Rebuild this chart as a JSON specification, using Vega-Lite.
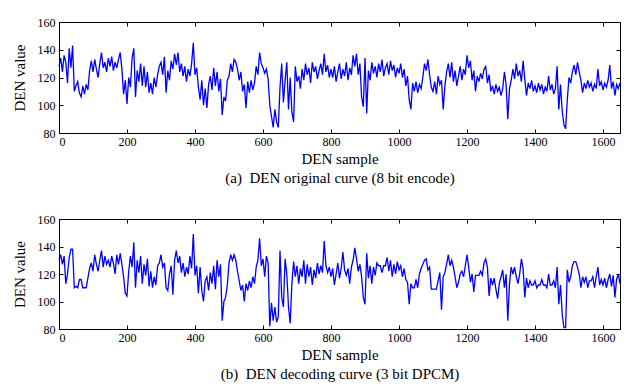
{
"$schema": "https://vega.github.io/schema/vega-lite/v6.json",
"padding": {"left": 11, "top": 15, "right": 2, "bottom": 0},
"background": "white",
"data": {"values": [
{"s":0,"a":128,"b":130},{"s":5,"a":134,"b":134},{"s":10,"a":124,"b":127},{"s":15,"a":136,"b":133},{"s":20,"a":131,"b":113},{"s":25,"a":116,"b":120},{"s":30,"a":141,"b":132},{"s":35,"a":127,"b":138},{"s":40,"a":143,"b":138},{"s":45,"a":110,"b":110},
{"s":50,"a":114,"b":111},{"s":55,"a":117,"b":110},{"s":60,"a":109,"b":116},{"s":65,"a":106,"b":116},{"s":70,"a":114,"b":110},{"s":75,"a":108,"b":110},{"s":80,"a":115,"b":110},{"s":85,"a":111,"b":117},{"s":90,"a":125,"b":124},{"s":95,"a":132,"b":128},
{"s":100,"a":124,"b":122},{"s":105,"a":133,"b":134},{"s":110,"a":126,"b":127},{"s":115,"a":120,"b":122},{"s":120,"a":130,"b":130},{"s":125,"a":138,"b":137},{"s":130,"a":127,"b":125},{"s":135,"a":131,"b":133},{"s":140,"a":124,"b":127},{"s":145,"a":134,"b":130},
{"s":150,"a":128,"b":125},{"s":155,"a":135,"b":133},{"s":160,"a":125,"b":128},{"s":165,"a":131,"b":120},{"s":170,"a":127,"b":134},{"s":175,"a":133,"b":127},{"s":180,"a":138,"b":135},{"s":185,"a":126,"b":127},{"s":190,"a":108,"b":118},{"s":195,"a":118,"b":106},
{"s":200,"a":101,"b":104},{"s":205,"a":120,"b":122},{"s":210,"a":113,"b":133},{"s":215,"a":134,"b":125},{"s":220,"a":141,"b":143},{"s":225,"a":106,"b":110},{"s":230,"a":125,"b":130},{"s":235,"a":117,"b":121},{"s":240,"a":130,"b":133},{"s":245,"a":114,"b":113},
{"s":250,"a":128,"b":127},{"s":255,"a":113,"b":119},{"s":260,"a":124,"b":131},{"s":265,"a":109,"b":111},{"s":270,"a":116,"b":122},{"s":275,"a":108,"b":110},{"s":280,"a":120,"b":118},{"s":285,"a":113,"b":112},{"s":290,"a":122,"b":126},{"s":295,"a":128,"b":128},
{"s":300,"a":131,"b":134},{"s":305,"a":122,"b":125},{"s":310,"a":135,"b":128},{"s":315,"a":109,"b":110},{"s":320,"a":125,"b":108},{"s":325,"a":118,"b":120},{"s":330,"a":132,"b":126},{"s":335,"a":126,"b":105},{"s":340,"a":137,"b":130},{"s":345,"a":129,"b":137},
{"s":350,"a":138,"b":128},{"s":355,"a":124,"b":133},{"s":360,"a":130,"b":121},{"s":365,"a":121,"b":128},{"s":370,"a":128,"b":118},{"s":375,"a":117,"b":125},{"s":380,"a":126,"b":120},{"s":385,"a":121,"b":133},{"s":390,"a":130,"b":124},{"s":395,"a":145,"b":149},
{"s":400,"a":122,"b":119},{"s":405,"a":127,"b":126},{"s":410,"a":113,"b":106},{"s":415,"a":104,"b":125},{"s":420,"a":118,"b":108},{"s":425,"a":100,"b":100},{"s":430,"a":112,"b":115},{"s":435,"a":98,"b":118},{"s":440,"a":115,"b":108},{"s":445,"a":121,"b":121},
{"s":450,"a":111,"b":113},{"s":455,"a":127,"b":126},{"s":460,"a":114,"b":109},{"s":465,"a":124,"b":130},{"s":470,"a":110,"b":118},{"s":475,"a":119,"b":127},{"s":480,"a":93,"b":86},{"s":485,"a":106,"b":100},{"s":490,"a":103,"b":103},{"s":495,"a":118,"b":112},
{"s":500,"a":121,"b":128},{"s":505,"a":130,"b":134},{"s":510,"a":124,"b":130},{"s":515,"a":133,"b":134},{"s":520,"a":131,"b":130},{"s":525,"a":126,"b":122},{"s":530,"a":118,"b":115},{"s":535,"a":124,"b":108},{"s":540,"a":110,"b":112},{"s":545,"a":115,"b":100},
{"s":550,"a":98,"b":113},{"s":555,"a":117,"b":108},{"s":560,"a":109,"b":115},{"s":565,"a":118,"b":110},{"s":570,"a":111,"b":118},{"s":575,"a":116,"b":113},{"s":580,"a":128,"b":125},{"s":585,"a":122,"b":130},{"s":590,"a":138,"b":146},{"s":595,"a":130,"b":126},
{"s":600,"a":127,"b":131},{"s":605,"a":123,"b":118},{"s":610,"a":126,"b":133},{"s":615,"a":119,"b":128},{"s":620,"a":100,"b":82},{"s":625,"a":92,"b":99},{"s":630,"a":84,"b":86},{"s":635,"a":97,"b":96},{"s":640,"a":88,"b":85},{"s":645,"a":84,"b":89},
{"s":650,"a":113,"b":137},{"s":655,"a":130,"b":103},{"s":660,"a":102,"b":96},{"s":665,"a":118,"b":131},{"s":670,"a":131,"b":120},{"s":675,"a":97,"b":96},{"s":680,"a":120,"b":84},{"s":685,"a":95,"b":113},{"s":690,"a":88,"b":129},{"s":695,"a":128,"b":118},
{"s":700,"a":117,"b":126},{"s":705,"a":121,"b":113},{"s":710,"a":112,"b":124},{"s":715,"a":126,"b":118},{"s":720,"a":118,"b":130},{"s":725,"a":130,"b":113},{"s":730,"a":122,"b":127},{"s":735,"a":127,"b":118},{"s":740,"a":116,"b":125},{"s":745,"a":131,"b":112},
{"s":750,"a":124,"b":123},{"s":755,"a":128,"b":117},{"s":760,"a":119,"b":128},{"s":765,"a":125,"b":120},{"s":770,"a":130,"b":126},{"s":775,"a":122,"b":121},{"s":780,"a":137,"b":144},{"s":785,"a":124,"b":126},{"s":790,"a":129,"b":121},{"s":795,"a":120,"b":125},
{"s":800,"a":126,"b":118},{"s":805,"a":120,"b":124},{"s":810,"a":128,"b":112},{"s":815,"a":117,"b":120},{"s":820,"a":124,"b":128},{"s":825,"a":130,"b":117},{"s":830,"a":119,"b":124},{"s":835,"a":126,"b":136},{"s":840,"a":121,"b":123},{"s":845,"a":131,"b":119},
{"s":850,"a":118,"b":124},{"s":855,"a":127,"b":113},{"s":860,"a":122,"b":125},{"s":865,"a":136,"b":130},{"s":870,"a":128,"b":139},{"s":875,"a":137,"b":131},{"s":880,"a":122,"b":122},{"s":885,"a":130,"b":127},{"s":890,"a":106,"b":118},{"s":895,"a":99,"b":103},
{"s":900,"a":134,"b":98},{"s":905,"a":94,"b":135},{"s":910,"a":125,"b":117},{"s":915,"a":118,"b":126},{"s":920,"a":131,"b":113},{"s":925,"a":123,"b":125},{"s":930,"a":128,"b":119},{"s":935,"a":120,"b":128},{"s":940,"a":130,"b":126},{"s":945,"a":124,"b":126},
{"s":950,"a":133,"b":121},{"s":955,"a":121,"b":126},{"s":960,"a":127,"b":126},{"s":965,"a":130,"b":132},{"s":970,"a":122,"b":122},{"s":975,"a":132,"b":130},{"s":980,"a":125,"b":118},{"s":985,"a":129,"b":127},{"s":990,"a":120,"b":120},{"s":995,"a":127,"b":129},
{"s":1000,"a":123,"b":123},{"s":1005,"a":130,"b":126},{"s":1010,"a":120,"b":118},{"s":1015,"a":126,"b":124},{"s":1020,"a":114,"b":116},{"s":1025,"a":121,"b":114},{"s":1030,"a":104,"b":98},{"s":1035,"a":97,"b":113},{"s":1040,"a":116,"b":110},{"s":1045,"a":110,"b":110},
{"s":1050,"a":117,"b":116},{"s":1055,"a":109,"b":110},{"s":1060,"a":115,"b":120},{"s":1065,"a":112,"b":124},{"s":1070,"a":120,"b":127},{"s":1075,"a":130,"b":130},{"s":1080,"a":125,"b":131},{"s":1085,"a":133,"b":123},{"s":1090,"a":122,"b":125},{"s":1095,"a":113,"b":109},
{"s":1100,"a":110,"b":109},{"s":1105,"a":117,"b":109},{"s":1110,"a":108,"b":109},{"s":1115,"a":121,"b":115},{"s":1120,"a":115,"b":121},{"s":1125,"a":118,"b":94},{"s":1130,"a":97,"b":118},{"s":1135,"a":114,"b":121},{"s":1140,"a":124,"b":127},{"s":1145,"a":130,"b":134},
{"s":1150,"a":120,"b":126},{"s":1155,"a":131,"b":130},{"s":1160,"a":117,"b":125},{"s":1165,"a":125,"b":118},{"s":1170,"a":114,"b":110},{"s":1175,"a":121,"b":114},{"s":1180,"a":128,"b":120},{"s":1185,"a":118,"b":122},{"s":1190,"a":126,"b":118},{"s":1195,"a":122,"b":126},
{"s":1200,"a":136,"b":134},{"s":1205,"a":127,"b":125},{"s":1210,"a":132,"b":114},{"s":1215,"a":118,"b":120},{"s":1220,"a":125,"b":107},{"s":1225,"a":110,"b":119},{"s":1230,"a":121,"b":119},{"s":1235,"a":117,"b":119},{"s":1240,"a":123,"b":122},{"s":1245,"a":119,"b":119},
{"s":1250,"a":126,"b":128},{"s":1255,"a":128,"b":131},{"s":1260,"a":116,"b":125},{"s":1265,"a":122,"b":104},{"s":1270,"a":110,"b":117},{"s":1275,"a":114,"b":112},{"s":1280,"a":108,"b":117},{"s":1285,"a":115,"b":109},{"s":1290,"a":110,"b":102},{"s":1295,"a":113,"b":113},
{"s":1300,"a":107,"b":118},{"s":1305,"a":112,"b":123},{"s":1310,"a":124,"b":110},{"s":1315,"a":115,"b":120},{"s":1320,"a":90,"b":86},{"s":1325,"a":112,"b":113},{"s":1330,"a":118,"b":125},{"s":1335,"a":126,"b":120},{"s":1340,"a":119,"b":125},{"s":1345,"a":130,"b":118},
{"s":1350,"a":121,"b":113},{"s":1355,"a":125,"b":120},{"s":1360,"a":117,"b":131},{"s":1365,"a":132,"b":124},{"s":1370,"a":119,"b":103},{"s":1375,"a":107,"b":117},{"s":1380,"a":116,"b":110},{"s":1385,"a":112,"b":115},{"s":1390,"a":118,"b":112},{"s":1395,"a":110,"b":112},
{"s":1400,"a":114,"b":115},{"s":1405,"a":109,"b":110},{"s":1410,"a":116,"b":112},{"s":1415,"a":111,"b":112},{"s":1420,"a":115,"b":116},{"s":1425,"a":108,"b":112},{"s":1430,"a":113,"b":112},{"s":1435,"a":110,"b":110},{"s":1440,"a":121,"b":120},{"s":1445,"a":111,"b":112},
{"s":1450,"a":115,"b":112},{"s":1455,"a":108,"b":115},{"s":1460,"a":112,"b":110},{"s":1465,"a":128,"b":125},{"s":1470,"a":97,"b":98},{"s":1475,"a":115,"b":112},{"s":1480,"a":96,"b":91},{"s":1485,"a":86,"b":81},{"s":1490,"a":83,"b":81},{"s":1495,"a":104,"b":123},
{"s":1500,"a":120,"b":114},{"s":1505,"a":116,"b":118},{"s":1510,"a":124,"b":126},{"s":1515,"a":129,"b":129},{"s":1520,"a":122,"b":129},{"s":1525,"a":131,"b":125},{"s":1530,"a":124,"b":120},{"s":1535,"a":118,"b":110},{"s":1540,"a":109,"b":118},{"s":1545,"a":116,"b":114},
{"s":1550,"a":112,"b":118},{"s":1555,"a":118,"b":110},{"s":1560,"a":113,"b":115},{"s":1565,"a":116,"b":115},{"s":1570,"a":110,"b":118},{"s":1575,"a":115,"b":110},{"s":1580,"a":112,"b":118},{"s":1585,"a":126,"b":125},{"s":1590,"a":114,"b":112},{"s":1595,"a":117,"b":116},
{"s":1600,"a":111,"b":112},{"s":1605,"a":116,"b":117},{"s":1610,"a":113,"b":110},{"s":1615,"a":118,"b":116},{"s":1620,"a":129,"b":120},{"s":1625,"a":112,"b":111},{"s":1630,"a":117,"b":119},{"s":1635,"a":107,"b":103},{"s":1640,"a":115,"b":116},{"s":1645,"a":112,"b":120},
{"s":1650,"a":116,"b":113}
]},
"spacing": 86,
"bounds": "flush",
"vconcat": [
{
"width": 561, "height": 111,
"layer": [
{"mark": {"type": "line", "color": "#0000ff", "strokeWidth": 1.3},
 "encoding": {
  "x": {"field": "s", "type": "quantitative", "scale": {"domain": [0, 1650], "nice": false, "zero": false},
        "axis": {"orient": "bottom", "format": "d", "values": [0,200,400,600,800,1000,1200,1400,1600], "title": ["DEN sample", "(a)\u00a0 DEN original curve (8 bit encode)"]}},
  "y": {"field": "a", "type": "quantitative", "scale": {"domain": [80, 160], "nice": false, "zero": false},
        "axis": {"orient": "left", "format": "d", "values": [80,100,120,140,160], "title": "DEN value"}}
 }},
{"mark": {"type": "line", "strokeOpacity": 0},
 "encoding": {
  "x": {"field": "s", "type": "quantitative", "axis": {"orient": "top", "values": [0,200,400,600,800,1000,1200,1400,1600], "labels": false, "title": null}},
  "y": {"field": "a", "type": "quantitative", "axis": {"orient": "right", "values": [80,100,120,140,160], "labels": false, "title": null}}
 }}
],
"resolve": {"axis": {"x": "independent", "y": "independent"}}
},
{
"width": 561, "height": 110,
"layer": [
{"mark": {"type": "line", "color": "#0000ff", "strokeWidth": 1.3},
 "encoding": {
  "x": {"field": "s", "type": "quantitative", "scale": {"domain": [0, 1650], "nice": false, "zero": false},
        "axis": {"orient": "bottom", "format": "d", "values": [0,200,400,600,800,1000,1200,1400,1600], "title": ["DEN sample", "(b)\u00a0 DEN decoding curve (3 bit DPCM)"]}},
  "y": {"field": "b", "type": "quantitative", "scale": {"domain": [80, 160], "nice": false, "zero": false},
        "axis": {"orient": "left", "format": "d", "values": [80,100,120,140,160], "title": "DEN value"}}
 }},
{"mark": {"type": "line", "strokeOpacity": 0},
 "encoding": {
  "x": {"field": "s", "type": "quantitative", "axis": {"orient": "top", "values": [0,200,400,600,800,1000,1200,1400,1600], "labels": false, "title": null}},
  "y": {"field": "b", "type": "quantitative", "axis": {"orient": "right", "values": [80,100,120,140,160], "labels": false, "title": null}}
 }}
],
"resolve": {"axis": {"x": "independent", "y": "independent"}}
}
],
"config": {
 "view": {"stroke": "black", "strokeWidth": 1},
 "axis": {
  "grid": false,
  "domainColor": "black",
  "tickColor": "black",
  "tickSize": -4,
  "labelPadding": 7,
  "labelFont": "Liberation Serif",
  "labelFontSize": 12,
  "labelColor": "black",
  "titleFont": "Liberation Serif",
  "titleFontSize": 15,
  "titleFontWeight": "normal",
  "titleColor": "black",
  "titleLineHeight": 19
 },
 "axisLeft": {"titlePadding": 10, "labelPadding": 8},
 "axisBottom": {"titlePadding": 4}
}
}
